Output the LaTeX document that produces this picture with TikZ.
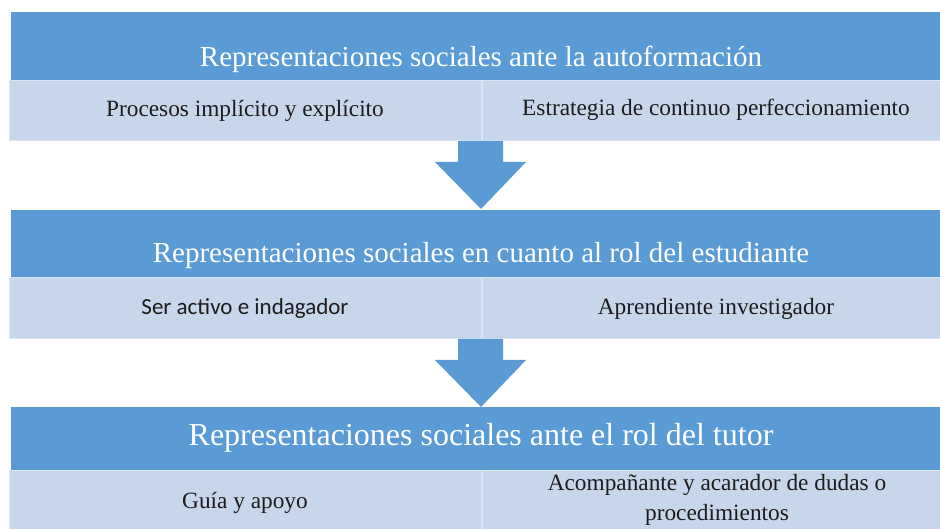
\documentclass[tikz,border=0pt]{standalone}
\usepackage{fontspec}
\setmainfont{Liberation Serif}
\newfontfamily\calib{Carlito}
\definecolor{hblue}{HTML}{5B9BD5}
\definecolor{lblue}{HTML}{C8D6EB}
\definecolor{dline}{HTML}{DCE5F2}
\definecolor{btext}{HTML}{1C1C1C}
\begin{document}
\begin{tikzpicture}[x=1pt,y=-1pt,
  band/.style={fill=hblue,draw=none,anchor=north west,inner sep=0pt},
  cell/.style={fill=lblue,draw=dline,line width=1.2pt,anchor=north west,inner sep=0pt},
  title/.style={text=white,anchor=base,inner sep=0pt,font=\fontsize{29}{34}\selectfont},
  body/.style={text=btext,anchor=base,inner sep=0pt,font=\fontsize{23.3}{30}\selectfont,align=center},
  blockarrow/.style={fill=hblue,draw=none}]
\useasboundingbox (0,0) rectangle (940,529);
\clip (0,0) rectangle (940,529);
\fill[white] (0,0) rectangle (940,529);
% row 1
\node[band,minimum width=941pt,minimum height=68pt] (b1) at (11,12) {};
\node[cell,minimum width=472pt,minimum height=60pt] (l1) at (9,80) {};
\node[cell,minimum width=470pt,minimum height=60pt] (r1) at (482,80) {};
\node[title] (t1) at (481,67) {Representaciones sociales ante la autoformación};
\node[body] (lt1) at (245,117) {Procesos implícito y explícito};
\node[body] (rt1) at (716,116) {Estrategia de continuo perfeccionamiento};
% arrow 1
\fill[blockarrow] (458,141) -- (503,141) -- (503,162) -- (526,162) -- (481,209) -- (435,162) -- (458,162) -- cycle;
% row 2
\node[band,minimum width=941pt,minimum height=67pt] (b2) at (11,210) {};
\node[cell,minimum width=472pt,minimum height=61pt] (l2) at (9,277) {};
\node[cell,minimum width=470pt,minimum height=61pt] (r2) at (482,277) {};
\node[title] (t2) at (481,263) {Representaciones sociales en cuanto al rol del estudiante};
\node[body,font=\calib\fontsize{23}{28}\selectfont] (lt2) at (245,315) {Ser activo e indagador};
\node[body] (rt2) at (716,315) {Aprendiente investigador};
% arrow 2
\fill[blockarrow] (458,339) -- (503,339) -- (503,360) -- (526,360) -- (481,407) -- (435,360) -- (458,360) -- cycle;
% row 3
\node[band,minimum width=941pt,minimum height=63pt] (b3) at (11,407) {};
\node[cell,minimum width=472pt,minimum height=70pt] (l3) at (9,470) {};
\node[cell,minimum width=470pt,minimum height=70pt] (r3) at (482,470) {};
\node[title,font=\fontsize{32}{36}\selectfont] (t3) at (481,445) {Representaciones sociales ante el rol del tutor};
\node[body] (lt3) at (245,508) {Guía y apoyo};
\node[body] (rt3) at (717,520) {Acompañante y acarador de dudas o\\procedimientos};
\end{tikzpicture}
\end{document}
